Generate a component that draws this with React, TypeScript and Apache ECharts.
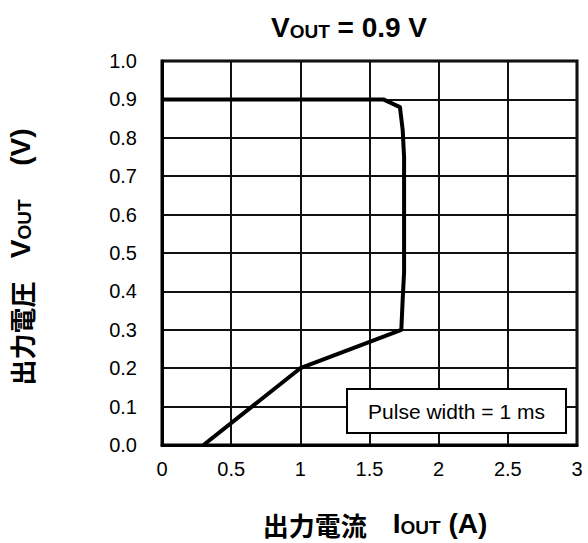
import React, { useEffect, useRef } from "react";
import * as echarts from "echarts";

const currentA = [0, 1.6, 1.72, 1.74, 1.75, 1.75, 1.74, 1.73, 1.0, 0.3];
const voltageV = [0.9, 0.9, 0.88, 0.82, 0.75, 0.45, 0.38, 0.3, 0.2, 0];
const xTickLabels = ["0", "0.5", "1", "1.5", "2", "2.5", "3"];
const yTickLabels = ["0.0", "0.1", "0.2", "0.3", "0.4", "0.5", "0.6", "0.7", "0.8", "0.9", "1.0"];
const noteText = "Pulse width = 1 ms";

const LATIN = "'Liberation Sans', Arial, 'Noto Sans CJK JP', sans-serif";
const CJK = "'Noto Sans CJK JP', 'Liberation Sans', sans-serif";

export default function App() {
  const ref = useRef<HTMLDivElement>(null);
  useEffect(() => {
    if (!ref.current) return;
    const chart = echarts.init(ref.current, null, { renderer: "svg" });
    const big = { fontFamily: LATIN, fontWeight: "bold", fontSize: 28, lineHeight: 30, color: "#000", verticalAlign: "bottom" };
    const sub = { fontFamily: LATIN, fontWeight: "bold", fontSize: 19, lineHeight: 30, color: "#000", verticalAlign: "bottom" };
    const cjk = { fontFamily: CJK, fontWeight: "bold", fontSize: 26, lineHeight: 30, color: "#000", verticalAlign: "bottom" };
    const option: any = {
      animation: false,
      backgroundColor: "#fff",
      grid: {
        left: 162,
        top: 61,
        width: 415,
        height: 384,
        show: true,
        borderColor: "#000",
        borderWidth: 3,
        backgroundColor: "transparent",
      },
      xAxis: {
        type: "value",
        min: 0,
        max: 3,
        interval: 0.5,
        axisLine: { show: true, lineStyle: { color: "#000", width: 3 } },
        axisTick: { show: false },
        splitLine: { show: true, lineStyle: { color: "#111", width: 2 } },
        axisLabel: {
          margin: 14,
          fontSize: 20,
          fontFamily: LATIN,
          color: "#000",
          formatter: (v: number) => {
            const i = Math.round(v / 0.5);
            return xTickLabels[i] ?? String(v);
          },
        },
      },
      yAxis: {
        type: "value",
        min: 0,
        max: 1,
        interval: 0.1,
        axisLine: { show: true, lineStyle: { color: "#000", width: 3 } },
        axisTick: { show: false },
        splitLine: { show: true, lineStyle: { color: "#111", width: 2 } },
        axisLabel: {
          margin: 25,
          fontSize: 20,
          fontFamily: LATIN,
          color: "#000",
          formatter: (v: number) => {
            const i = Math.round(v / 0.1);
            return yTickLabels[i] ?? v.toFixed(1);
          },
        },
      },
      series: [
        {
          type: "line",
          data: currentA.map((x, i) => [x, voltageV[i]]),
          symbol: "none",
          lineStyle: { color: "#000", width: 4, join: "round" },
          z: 5,
        },
      ],
      graphic: [
        {
          type: "text",
          x: 349,
          y: 26,
          style: {
            text: "{v|V}{s|OUT}{v| = 0.9 V}",
            rich: { v: big, s: sub },
            align: "center",
            verticalAlign: "middle",
          },
        },
        {
          type: "text",
          x: 375,
          y: 522,
          style: {
            text: "{c|出力電流}{c|　}{v|I}{s|OUT}{v| (A)}",
            rich: { c: cjk, v: big, s: sub },
            align: "center",
            verticalAlign: "middle",
          },
        },
        {
          type: "text",
          x: 19,
          y: 257,
          rotation: Math.PI / 2,
          style: {
            text: "{c|出力電圧}{v|   V}{s|OUT}{c|　}{v| (V)}",
            rich: { c: cjk, v: big, s: sub },
            align: "center",
            verticalAlign: "middle",
          },
        },
        {
          type: "group",
          z: 10,
          children: [
            {
              type: "rect",
              shape: { x: 347, y: 389, width: 219, height: 44 },
              style: { fill: "#fff", stroke: "#000", lineWidth: 2 },
              z: 10,
            },
            {
              type: "text",
              x: 456.5,
              y: 411,
              z: 11,
              style: {
                text: noteText,
                fontFamily: LATIN,
                fontSize: 21,
                fill: "#000",
                align: "center",
                verticalAlign: "middle",
              },
            },
          ],
        },
      ],
    };
    chart.setOption(option);
    return () => chart.dispose();
  }, []);
  return (
    <div
      ref={ref}
      style={{ position: "fixed", left: 0, top: 0, width: 588, height: 543, background: "#fff" }}
    />
  );
}
